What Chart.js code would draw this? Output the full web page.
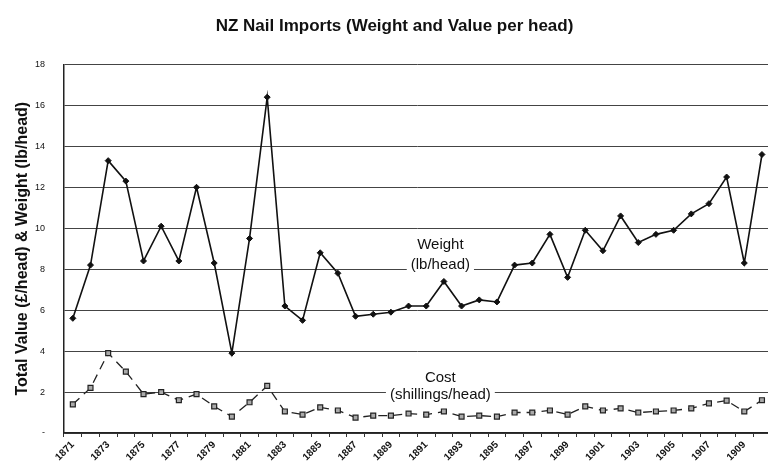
<!DOCTYPE html>
<html>
<head>
<meta charset="utf-8">
<script src="https://cdn.jsdelivr.net/npm/chart.js@4"></script>
<style>
  html, body { margin: 0; padding: 0; background: #fff; overflow: hidden; }
  #wrap { width: 776px; height: 472px; }
</style>
</head>
<body>
<div id="wrap"><canvas id="chart" width="776" height="472"></canvas></div>
<script>
const years = [];
for (let y = 1871; y <= 1910; y++) years.push(String(y));

const weight = [5.6, 8.2, 13.3, 12.3, 8.4, 10.1, 8.4, 12.0, 8.3, 3.9,
                9.5, 16.4, 6.2, 5.5, 8.8, 7.8, 5.7, 5.8, 5.9, 6.2,
                6.2, 7.4, 6.2, 6.5, 6.4, 8.2, 8.3, 9.7, 7.6, 9.9,
                8.9, 10.6, 9.3, 9.7, 9.9, 10.7, 11.2, 12.5, 8.3, 13.6];

const cost = [1.4, 2.2, 3.9, 3.0, 1.9, 2.0, 1.6, 1.9, 1.3, 0.8,
              1.5, 2.3, 1.05, 0.9, 1.25, 1.1, 0.75, 0.85, 0.85, 0.95,
              0.9, 1.05, 0.8, 0.85, 0.8, 1.0, 1.0, 1.1, 0.9, 1.3,
              1.1, 1.2, 1.0, 1.05, 1.1, 1.2, 1.45, 1.58, 1.05, 1.6];

const yTicks = [0, 2, 4, 6, 8, 10, 12, 14, 16, 18];

const FONT = "'Liberation Sans', Arial, sans-serif";

// series captions drawn in the plot, with a white box behind like the original
const captions = {
  id: 'captions',
  afterDatasetsDraw(chart) {
    const ctx = chart.ctx;
    const x = chart.scales.x.getPixelForValue(20.8);
    const y = chart.scales.y;
    const lines = [
      ['Weight', y.getPixelForValue(9.2)],
      ['(lb/head)', y.getPixelForValue(8.2)],
      ['Cost', y.getPixelForValue(2.7)],
      ['(shillings/head)', y.getPixelForValue(1.85)]
    ];
    ctx.save();
    ctx.font = '15px ' + FONT;
    ctx.textAlign = 'center';
    ctx.textBaseline = 'middle';
    lines.forEach(([t, py]) => {
      const w = ctx.measureText(t).width;
      ctx.fillStyle = '#fff';
      ctx.fillRect(x - w / 2 - 4, py - 7, w + 8, 14);
      ctx.fillStyle = '#111';
      ctx.fillText(t, x, py);
    });
    ctx.restore();
  }
};

new Chart(document.getElementById('chart'), {
  type: 'line',
  data: {
    labels: years,
    datasets: [{
      label: 'Weight (lb/head)',
      data: weight,
      borderColor: '#111',
      backgroundColor: '#111',
      borderWidth: 1.6,
      pointStyle: 'rectRot',
      pointRadius: 3,
      pointBorderWidth: 1,
      tension: 0
    }, {
      label: 'Cost (shillings/head)',
      data: cost,
      borderColor: '#222',
      backgroundColor: '#aaa',
      borderWidth: 1.3,
      borderDash: [9, 6],
      pointStyle: 'rect',
      pointRadius: 3.5,
      pointBorderWidth: 1.2,
      pointBorderColor: '#222',
      tension: 0
    }]
  },
  options: {
    responsive: false,
    animation: false,
    layout: { padding: { left: 13, right: 0, top: 0, bottom: 0 } },
    scales: {
      x: {
        offset: true,
        grid: {
          offset: true,
          drawOnChartArea: false,
          drawTicks: true,
          tickLength: 4,
          color: '#333'
        },
        border: { color: '#222', width: 1.5 },
        ticks: {
          autoSkip: false,
          maxRotation: 45,
          minRotation: 45,
          padding: 2,
          color: '#111',
          font: { family: FONT, size: 10, weight: 'bold' },
          callback: function(val, index) {
            return index % 2 === 0 && index < 39 ? this.getLabelForValue(val) : '';
          }
        },
        afterFit(scale) { scale.height = 39; }
      },
      y: {
        min: 0,
        max: 18,
        afterBuildTicks(scale) { scale.ticks = yTicks.map(v => ({ value: v })); },
        grid: {
          color: '#444',
          lineWidth: 1,
          drawTicks: false
        },
        border: { color: '#222', width: 1.5 },
        ticks: {
          padding: 19,
          color: '#111',
          font: { family: FONT, size: 9 },
          callback: v => v === 0 ? '-' : v
        },
        title: {
          display: true,
          text: 'Total Value (£/head) & Weight (lb/head)',
          color: '#111',
          font: { family: FONT, size: 16, weight: 'bold' },
          padding: { top: 0, bottom: 5 }
        },
        afterFit(scale) { scale.width = 51; }
      }
    },
    plugins: {
      legend: { display: false },
      tooltip: { enabled: false },
      title: {
        display: true,
        text: 'NZ Nail Imports (Weight and Value per head)',
        color: '#111',
        font: { family: FONT, size: 17, weight: 'bold' },
        padding: { top: 16, bottom: 28 }
      }
    }
  },
  plugins: [captions]
});
</script>
</body>
</html>
